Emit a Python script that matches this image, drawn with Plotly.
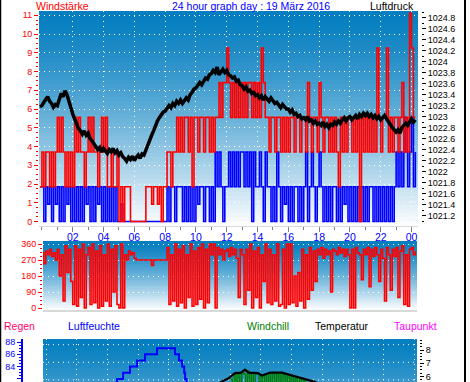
import numpy as np
import plotly.graph_objects as go

# ---------------- data ----------------
KT = 1.852  # knot -> Windstärke axis scale
STEP = 0.125  # hours between samples
T0 = -0.125

gust_kt = [1,
    2, 1, 2, 2, 1, 2, 1, 2,
    3, 2, 3, 2, 1, 2, 1, 2,
    1, 3, 2, 3, 2, 2, 1, 2,
    3, 2, 3, 2, 2, 1, 2, 3,
    2, 3, 1, 1, 2, 1, 1, 2,
    0, 1, 0, 1, 1, 1, 0, 0,
    0, 0, 0, 0, 0, 0, 1, 1,
    1, 0.5, 1, 1, 0.5, 1, 0, 1,
    1, 2, 2, 1, 2, 2, 3, 2,
    3, 2, 3, 3, 2, 3, 1, 3,
    3, 2, 3, 3, 2, 3, 3, 2,
    3, 2, 3, 3, 4, 3, 4, 4,
    5, 4, 3, 4, 3, 4, 3, 4,
    3, 4, 3, 4, 4, 3, 4, 3,
    4, 3, 5, 4, 3, 3, 2, 3,
    3, 2, 3, 3, 2, 3, 2, 3,
    2, 3, 3, 2, 3, 3, 2, 3,
    3, 2, 4, 3, 2, 3, 3, 2,
    4, 3, 2, 3, 3, 2, 3, 2,
    3, 2, 1, 3, 2, 3, 2, 3,
    3, 2, 3, 2, 3, 0, 3, 2,
    3, 2, 3, 2, 3, 2, 5, 3,
    2, 3, 3, 5, 2, 3, 2, 3,
    3, 2, 3, 4, 2, 3, 2, 6,
    5, 3, 3]

mean_kt = [1,
    1, 0, 1, 0.5, 1, 0, 1, 0.5,
    1, 0, 1, 0, 1, 0.5, 1, 0,
    1, 0, 1, 0, 1, 0, 1, 0.5,
    1, 0, 1, 0, 1, 0.5, 1, 0,
    1, 0, 1, 0, 1, 0, 1, 0,
    0, 0.5, 0, 0, 0, 0, 0, 0,
    0, 0, 0, 0, 0, 0, 0, 0,
    0, 0, 0, 0, 0, 0, 0, 0,
    0, 1, 0, 1, 1, 0, 1, 1,
    1, 0, 1, 0, 1, 0, 1, 0,
    1, 0.5, 1, 1, 0, 1, 1, 0,
    1, 0, 2, 1, 2, 1, 0, 1,
    1, 2, 1, 2, 1, 2, 1, 2,
    2, 1, 2, 1, 2, 0, 2, 1,
    1, 2, 1, 0, 2, 1, 1, 0,
    1, 0, 2, 1, 0, 1, 0.5, 1,
    0, 1, 0, 1, 1, 0, 1, 0,
    1, 2, 0, 1, 2, 1, 0, 1,
    2, 1, 0, 1, 0, 1, 0, 1,
    1, 0, 1, 0, 1, 0.5, 1, 0,
    1, 0, 1, 0, 1, 0, 1, 0,
    1, 0, 1, 1, 0, 1, 0, 1,
    0, 1, 0, 1, 0, 1, 0, 1,
    2, 1, 2, 1, 3, 2, 1, 2,
    3, 1, 2]

wind_dir = [320,
    310, 250, 320, 300, 330, 290, 310, 270,
    330, 180, 300, 40, 350, 200, 330, 150,
    20, 350, 10, 330, 60, 360, 0, 300,
    340, 20, 360, 30, 320, 0, 350, 10,
    300, 40, 360, 10, 330, 90, 350, 20,
    0, 360, 0, 300, 270, 320, 300, 310,
    280, 270, 270, 270, 270, 270, 270, 270,
    270, 240, 270, 270, 270, 270, 270, 270,
    270, 340, 20, 300, 40, 360, 10, 330,
    30, 350, 0, 300, 60, 360, 10, 320,
    20, 340, 50, 360, 0, 330, 30, 360,
    300, 360, 0, 340, 300, 330, 270, 320,
    330, 290, 340, 300, 330, 280, 60, 330,
    300, 20, 330, 100, 360, 0, 320, 60,
    340, 0, 300, 150, 360, 30, 330, 20,
    300, 40, 360, 10, 20, 330, 0, 360,
    20, 360, 30, 180, 10, 200, 40, 330,
    0, 300, 50, 340, 100, 320, 150, 330,
    300, 340, 280, 330, 300, 320, 90, 330,
    320, 300, 340, 310, 330, 290, 330, 300,
    0, 330, 0, 340, 310, 300, 160, 330,
    300, 340, 120, 330, 290, 340, 300, 150,
    330, 280, 40, 340, 300, 100, 330, 290,
    340, 60, 320, 350, 20, 300, 10, 330,
    340, 300, 320]

pressure = [1023.18,
    1023.20, 1023.26, 1023.30, 1023.36, 1023.28, 1023.24, 1023.17, 1023.22,
    1023.20, 1023.30, 1023.42, 1023.36, 1023.47, 1023.40, 1023.28, 1023.12,
    1023.05, 1022.96, 1022.86, 1022.78, 1022.74, 1022.68, 1022.74, 1022.66,
    1022.70, 1022.60, 1022.56, 1022.50, 1022.46, 1022.40, 1022.44, 1022.36,
    1022.42, 1022.38, 1022.33, 1022.40, 1022.36, 1022.42, 1022.34, 1022.38,
    1022.30, 1022.34, 1022.27, 1022.24, 1022.19, 1022.26, 1022.22, 1022.28,
    1022.20, 1022.26, 1022.30, 1022.24, 1022.32, 1022.30, 1022.40, 1022.46,
    1022.56, 1022.66, 1022.74, 1022.84, 1022.92, 1022.98, 1023.04, 1023.08,
    1023.10, 1023.16, 1023.20, 1023.16, 1023.24, 1023.20, 1023.28, 1023.24,
    1023.30, 1023.24, 1023.28, 1023.34, 1023.30, 1023.40, 1023.44, 1023.50,
    1023.52, 1023.58, 1023.62, 1023.58, 1023.66, 1023.70, 1023.68, 1023.76,
    1023.78, 1023.84, 1023.80, 1023.90, 1023.76, 1023.82, 1023.86, 1023.80,
    1023.84, 1023.76, 1023.74, 1023.70, 1023.72, 1023.64, 1023.66, 1023.58,
    1023.56, 1023.50, 1023.54, 1023.46, 1023.48, 1023.42, 1023.44, 1023.38,
    1023.40, 1023.34, 1023.38, 1023.30, 1023.36, 1023.32, 1023.28, 1023.34,
    1023.30, 1023.24, 1023.26, 1023.20, 1023.16, 1023.22, 1023.18, 1023.14,
    1023.14, 1023.08, 1023.12, 1023.04, 1023.06, 1023.00, 1023.02, 1022.96,
    1022.98, 1022.94, 1023.00, 1022.92, 1022.94, 1022.88, 1022.92, 1022.86,
    1022.88, 1022.84, 1022.90, 1022.82, 1022.86, 1022.80, 1022.86, 1022.84,
    1022.90, 1022.86, 1022.92, 1022.88, 1022.94, 1022.98, 1022.92, 1022.98,
    1023.00, 1022.94, 1022.98, 1023.02, 1022.96, 1023.04, 1023.00, 1023.06,
    1023.02, 1023.06, 1023.00, 1023.04, 1022.98, 1023.02, 1022.96, 1023.00,
    1022.94, 1022.98, 1023.02, 1022.96, 1022.90, 1022.84, 1022.80, 1022.76,
    1022.72, 1022.76, 1022.70, 1022.80, 1022.84, 1022.88, 1022.84, 1022.92,
    1022.96, 1022.90, 1022.94]

hum_t = [0, 2, 4, 4.63, 5.02, 5.47, 5.93, 6.45, 7.23, 8.40, 8.66, 8.86, 9.00, 9.06, 9.15, 9.30, 10, 14, 20, 24.2]
hum_v = [78, 79, 80, 82, 83, 84, 85, 86, 87, 86, 85, 84, 83, 82, 81, 79, 76, 70, 74, 78]

temp_t = [0, 4, 8, 10, 11.0, 11.47, 11.86, 12.31, 12.7, 12.96, 13.2, 13.8, 14.07, 14.6, 15.37, 15.9, 16.55, 17.2, 17.5, 18, 20, 24.2]
temp_v = [3.2, 2.6, 2.8, 4.2, 5.2, 5.64, 5.85, 6.26, 6.30, 6.52, 6.30, 6.26, 6.08, 6.30, 6.30, 6.13, 5.95, 5.75, 5.60, 5.30, 4.50, 3.80]

WC_T0 = 12.0
windchill = [5.8, 5.0, 6.2, 5.2, 6.2, 5.0, 6.3, 6.2, 5.1, 6.4, 5.0, 6.2, 5.3, 6.2, 6.2,
             5.0, 6.0, 5.1, 6.1, 5.0, 6.2, 5.2, 6.3, 5.0, 6.2, 5.1, 6.3, 5.0, 6.2, 5.4,
             6.1, 5.0, 6.0, 5.2, 5.9, 5.0, 5.8, 5.3, 5.7, 5.0, 5.6]

hour_ticks = [2, 4, 6, 8, 10, 12, 14, 16, 18, 20, 22, 24]
hour_labels = ["02", "04", "06", "08", "10", "12", "14", "16", "18", "20", "22", "00"]
press_ticks = [1021.2, 1021.4, 1021.6, 1021.8, 1022, 1022.2, 1022.4, 1022.6, 1022.8,
               1023, 1023.2, 1023.4, 1023.6, 1023.8, 1024, 1024.2, 1024.4, 1024.6, 1024.8]
press_labels = ["1021.2", "1021.4", "1021.6", "1021.8", "1022", "1022.2", "1022.4", "1022.6", "1022.8",
                "1023", "1023.2", "1023.4", "1023.6", "1023.8", "1024", "1024.2", "1024.4", "1024.6", "1024.8"]
dir_ticks = [0, 90, 180, 270, 360]
dir_labels = ["N", "O", "S", "W", "N"]

# ---------------- figure ----------------
W, H = 470, 382
FONT = "Liberation Sans"
DOT = "1px,4px"

def px(x):
    return x / W

def py(y):
    return 1 - y / H

t_wind = np.arange(len(gust_kt)) * STEP + T0
t_press = np.arange(len(pressure)) * STEP + T0
t_wc = np.arange(len(windchill)) * STEP + WC_T0

fig = go.Figure()
fig.add_trace(go.Scatter(x=t_wind, y=np.array(mean_kt) * KT, mode="lines", line_shape="hv",
                         line=dict(color="#0000ff", width=1.6), xaxis="x", yaxis="y"))
fig.add_trace(go.Scatter(x=t_wind, y=np.array(gust_kt) * KT, mode="lines", line_shape="hv",
                         line=dict(color="#ff0000", width=1.6), xaxis="x", yaxis="y"))
fig.add_trace(go.Scatter(x=t_press, y=pressure, mode="lines",
                         line=dict(color="#000000", width=3.5), xaxis="x", yaxis="y2"))
fig.add_trace(go.Scatter(x=t_wind, y=wind_dir, mode="lines", line_shape="hv",
                         line=dict(color="#ff0000", width=1.6), xaxis="x2", yaxis="y3"))
fig.add_trace(go.Scatter(x=hum_t, y=hum_v, mode="lines", line_shape="hv",
                         line=dict(color="#0000ff", width=2), xaxis="x3", yaxis="y5"))
fig.add_trace(go.Scatter(x=t_wc, y=windchill, mode="lines", line_shape="hv",
                         line=dict(color="#008000", width=1.5), xaxis="x3", yaxis="y6"))
fig.add_trace(go.Scatter(x=temp_t, y=temp_v, mode="lines",
                         line=dict(color="#000000", width=2.2), xaxis="x3", yaxis="y6"))

# gradient backgrounds
TOP = np.array([4, 126, 192])
BOT = np.array([255, 255, 255])
shapes = []

def gradient(xr, yr, f0, f1, n=40):
    for i in range(n):
        a = i / n
        f = f0 + (f1 - f0) * (a + 0.5 / n)
        g = f ** 1.3
        c = (TOP + (BOT - TOP) * g).astype(int)
        shapes.append(dict(type="rect", xref=xr, yref=yr, x0=0, x1=1,
                           y0=max(0, 1 - (i + 1) / n - 0.6 / n), y1=1 - i / n, layer="below",
                           line=dict(width=0), fillcolor=f"rgb({c[0]},{c[1]},{c[2]})"))

gradient("x domain", "y domain", 0, 1, 50)
gradient("x2 domain", "y3 domain", 0, 1, 30)
gradient("x3 domain", "y5 domain", 0, 0.3, 12)

for yy in (344.7, 362.3, 379.9):
    fr = (382 - yy) / (382 - 339)
    shapes.append(dict(type="line", xref="x3 domain", yref="y5 domain", x0=0, x1=1, y0=fr, y1=fr,
                       layer="below", line=dict(color="white", width=1, dash=DOT)))

# outer border
shapes.append(dict(type="line", xref="paper", yref="paper", x0=px(0.5), x1=px(0.5), y0=0, y1=1,
                   line=dict(color="black", width=1.5)))
shapes.append(dict(type="line", xref="paper", yref="paper", x0=px(465), x1=px(465), y0=0, y1=1,
                   line=dict(color="black", width=2)))

tickf = dict(family=FONT, size=9)
dom_main_x = [px(39), px(418)]
dom_low_x = [px(43), px(417)]
NA = dict(automargin=False)

fig.update_layout(
    width=W, height=H, margin=dict(l=0, r=0, t=0, b=0, autoexpand=False),
    paper_bgcolor="white", plot_bgcolor="white", showlegend=False,
    font=dict(family=FONT),
    shapes=shapes,
    xaxis=dict(NA, domain=dom_main_x, range=[-0.19, 24.42], anchor="y",
               tickvals=hour_ticks, ticktext=hour_labels,
               tickfont=dict(family=FONT, size=10.5, color="#0000ff"),
               ticks="outside", ticklen=5, tickcolor="#808080", ticklabelstandoff=-4,
               minor=dict(ticks="outside", ticklen=3, dtick=1, tick0=0, tickcolor="#808080"),
               showgrid=True, gridcolor="white", griddash=DOT, gridwidth=1,
               showline=True, linecolor="#d8d8d8", zeroline=False),
    yaxis=dict(NA, domain=[py(226), py(11)], range=[-0.24, 11.23], anchor="x",
               tickvals=list(range(0, 12)), tickfont=dict(tickf, color="#ff0000"),
               ticks="outside", ticklen=4, tickcolor="#ff0000",
               minor=dict(ticks="outside", ticklen=2, dtick=0.25, tick0=0, tickcolor="#ff0000"),
               showgrid=True, gridcolor="white", griddash=DOT, gridwidth=1, zeroline=False),
    yaxis2=dict(NA, overlaying="y", side="right", anchor="free", position=px(421),
                range=[1021.01, 1024.92], tickvals=press_ticks, ticktext=press_labels,
                tickfont=dict(tickf, color="#000000"),
                ticks="outside", ticklen=4, tickcolor="#000000",
                minor=dict(ticks="outside", ticklen=2, dtick=0.1, tick0=1021, tickcolor="#000000"),
                showgrid=False, zeroline=False),
    xaxis2=dict(NA, domain=dom_low_x, range=[0.07, 24.36], anchor="y3",
                showticklabels=False, ticks="", showgrid=False, zeroline=False,
                showline=True, linecolor="#d8d8d8", linewidth=2),
    yaxis3=dict(NA, domain=[py(310), py(241)], range=[-11, 377], anchor="x2",
                tickvals=dir_ticks, tickfont=dict(tickf, color="#ff0000"),
                ticks="outside", ticklen=4, tickcolor="#ff0000",
                minor=dict(ticks="outside", ticklen=2, dtick=22.5, tick0=0, tickcolor="#ff0000"),
                showgrid=True, gridcolor="white", griddash=DOT, gridwidth=1, zeroline=False),
    yaxis4=dict(NA, overlaying="y3", side="right", anchor="x2", range=[-11, 377],
                tickvals=dir_ticks, ticktext=dir_labels,
                tickfont=dict(family=FONT, size=13, color="#ff0000"),
                ticks="", ticklabelstandoff=16, showgrid=False, zeroline=False,
                showline=True, linecolor="#d8d8d8", linewidth=2),
    xaxis3=dict(NA, domain=dom_low_x, range=[-0.2, 24.17], anchor="y5",
                showticklabels=False, ticks="", dtick=2, tick0=0,
                showgrid=True, gridcolor="white", griddash=DOT, gridwidth=1, zeroline=False),
    yaxis5=dict(NA, domain=[0, py(339)], range=[81.5, 88.49], anchor="free", position=px(22), side="left",
                tickvals=[82, 84, 86, 88], tickfont=dict(tickf, color="#0000ff"),
                ticks="outside", ticklen=4, tickcolor="#0000ff",
                minor=dict(ticks="outside", ticklen=2, dtick=0.5, tick0=0, tickcolor="#0000ff"),
                showline=True, linecolor="#0000ff", linewidth=2, showgrid=False, zeroline=False),
    yaxis6=dict(NA, overlaying="y5", side="right", anchor="free", position=px(419),
                range=[5.59, 8.83], tickvals=[6, 7, 8], tickfont=dict(tickf, color="#000000"),
                ticks="outside", ticklen=4, tickcolor="#000000",
                minor=dict(ticks="outside", ticklen=2, dtick=0.25, tick0=0, tickcolor="#000000"),
                showgrid=False, zeroline=False),
)

def label(text, x, y, color, anchor="left", size=10.5):
    fig.add_annotation(text=text, xref="paper", yref="paper", x=px(x), y=py(y),
                       xanchor=anchor, yanchor="middle", showarrow=False,
                       font=dict(family=FONT, size=size, color=color))

label("Windstärke", 34, 5.5, "#ff0000")
label("24 hour graph day : 19 März 2016", 251.5, 5.5, "#0000ff", "center")
label("Luftdruck", 416, 5.5, "#000000", "right")
label("Regen", 2, 326, "#ff0066")
label("Luftfeuchte", 66, 326, "#0000ff")
label("Windchill", 245, 326, "#008000")
label("Temperatur", 313, 326, "#000000")
label("Taupunkt", 392, 326, "#ff00ff")

fig.write_html("out.html", config={"displayModeBar": False},
               post_script="document.body.style.margin='0';document.body.style.overflow='hidden';")
